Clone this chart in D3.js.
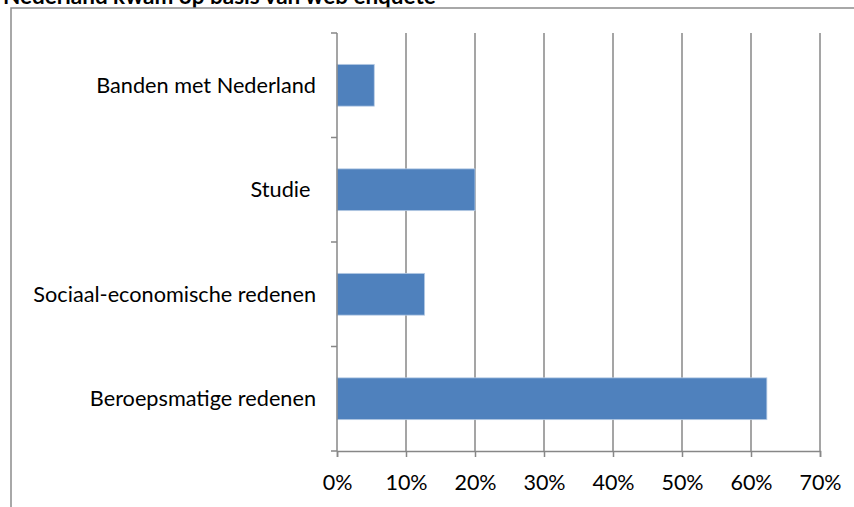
<!DOCTYPE html>
<html>
<head>
<meta charset="utf-8">
<script src="https://cdn.jsdelivr.net/npm/d3@7"></script>
<style>
  body { margin: 0; background: #fff; }
  svg { display: block; }
</style>
</head>
<body>
<div id="chart"></div>
<script>
// data
const categories = ["Banden met Nederland", "Studie ", "Sociaal-economische redenen", "Beroepsmatige redenen"];
const values = [0.054, 0.20, 0.127, 0.623];
const xTicks = [0, 0.1, 0.2, 0.3, 0.4, 0.5, 0.6, 0.7];
const title = "Nederland kwam op basis van web enquête";

const W = 854, H = 507;
const margin = {top: 33, right: 34, bottom: 56, left: 337};
const width = W - margin.left - margin.right,
      height = H - margin.top - margin.bottom;
const font = "Lato";

const svg = d3.select("#chart")
  .append("svg")
    .attr("width", W)
    .attr("height", H);

svg.append("text")
  .attr("x", 3)
  .attr("y", 4)
  .style("font-family", font)
  .style("font-weight", "bold")
  .style("font-size", "22.5px")
  .text(title);

// outer frame (top and left)
svg.append("path")
  .attr("d", `M11,${H} V8 H${W}`)
  .attr("fill", "none")
  .attr("stroke", "#8c8c8c")
  .attr("stroke-width", 1.5);

const g = svg.append("g")
  .attr("transform", `translate(${margin.left}, ${margin.top})`);

const x = d3.scaleLinear()
  .domain([0, 0.7])
  .range([0, width]);

const y = d3.scaleBand()
  .domain(categories)
  .range([0, height])
  .paddingInner(0.6)
  .paddingOuter(0.3);

// gridlines
g.append("g")
  .selectAll("line")
  .data(xTicks.slice(1))
  .enter()
  .append("line")
    .attr("x1", d => x(d)).attr("x2", d => x(d))
    .attr("y1", 0).attr("y2", height)
    .attr("stroke", "#878787")
    .attr("stroke-width", 1.5);

// bars
g.append("g")
  .selectAll("rect")
  .data(values)
  .enter()
  .append("rect")
    .attr("x", x(0))
    .attr("y", (d, i) => y(categories[i]))
    .attr("width", d => x(d))
    .attr("height", y.bandwidth())
    .attr("fill", "#4f81bd")
    .attr("stroke", "#b9cde5")
    .attr("stroke-width", 0.8);

// x axis
const xAxis = g.append("g")
  .attr("transform", `translate(0, ${height})`)
  .call(d3.axisBottom(x).tickValues(xTicks).tickFormat(d3.format(".0%")).tickSize(6).tickPadding(18));
xAxis.select(".domain").attr("stroke", "#878787").attr("stroke-width", 1.5);
xAxis.selectAll(".tick line").attr("stroke", "#878787").attr("stroke-width", 1.5);
xAxis.selectAll("text")
  .style("font-family", font)
  .style("font-size", "21.5px")
  .attr("fill", "#000");

// y axis with ticks between categories
const yEdges = d3.range(categories.length + 1).map(i => i * height / categories.length);
const yAxis = g.append("g");
yAxis.append("line")
  .attr("x1", 0).attr("x2", 0)
  .attr("y1", 0).attr("y2", height)
  .attr("stroke", "#878787")
  .attr("stroke-width", 1.5);
yAxis.selectAll(".ytick")
  .data(yEdges)
  .enter()
  .append("line")
    .attr("x1", -6).attr("x2", 0)
    .attr("y1", d => d).attr("y2", d => d)
    .attr("stroke", "#878787")
    .attr("stroke-width", 1.5);
yAxis.selectAll(".ylabel")
  .data(categories)
  .enter()
  .append("text")
    .attr("x", -21)
    .attr("y", d => y(d) + y.bandwidth() / 2)
    .attr("dy", "0.35em")
    .attr("text-anchor", "end")
    .style("white-space", "pre")
    .style("font-family", font)
    .style("font-size", "21.7px")
    .text(d => d);
</script>
</body>
</html>
